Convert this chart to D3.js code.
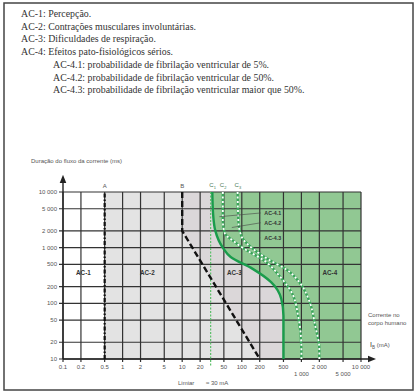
<!DOCTYPE html>
<html>
<head>
<meta charset="utf-8">
<script src="https://cdn.jsdelivr.net/npm/d3@7"></script>
<style>
  body { margin: 0; background: #fff; }
  svg { display: block; }
</style>
</head>
<body>
<div id="chart"></div>
<script>
// legend text lines (top of the figure)
const legendLines = [
  { text: 'AC-1: Percepção.', indent: 0 },
  { text: 'AC-2: Contrações musculares involuntárias.', indent: 0 },
  { text: 'AC-3: Dificuldades de respiração.', indent: 0 },
  { text: 'AC-4: Efeitos pato-fisiológicos sérios.', indent: 0 },
  { text: 'AC-4.1: probabilidade de fibrilação ventricular de 5%.', indent: 1 },
  { text: 'AC-4.2: probabilidade de fibrilação ventricular de 50%.', indent: 1 },
  { text: 'AC-4.3: probabilidade de fibrilação ventricular maior que 50%.', indent: 1 }
];

// axes
const xTicks = [0.1, 0.2, 0.5, 1, 2, 5, 10, 20, 50, 100, 200, 500, 1000, 2000, 5000, 10000];
const xTickLabels = ['0.1', '0.2', '0.5', '1', '2', '5', '10', '20', '50', '100', '200', '500', '1 000', '2 000', '5 000', '10 000'];
const xLowRow = [1000, 5000]; // labels set one row lower
const yTicks = [10, 20, 50, 100, 200, 500, 1000, 2000, 5000, 10000];
const yTickLabels = ['10', '20', '50', '100', '200', '500', '1 000', '2 000', '5 000', '10 000'];

// boundary curves [current mA, duration ms]
const curveA = [[0.5, 10], [0.5, 10000]];
const curveB = [[10, 10000], [10, 2000], [200, 10]];
const curveC1 = [[32, 10000], [33, 4000], [36, 2000], [48, 1000], [65, 680], [150, 420], [310, 240], [460, 120], [500, 60], [500, 10]];
const curveC2 = [[48, 10000], [48, 3100], [52, 1800], [70, 1350], [120, 900], [230, 600], [440, 300], [700, 150], [880, 60], [1000, 15], [1000, 10]];
const curveC3 = [[85, 10000], [88, 2800], [100, 1550], [165, 900], [290, 600], [570, 400], [950, 230], [1400, 100], [1700, 40], [2000, 15], [2000, 10]];
const threshold = 30;

// zone labels [x value, y value]
const zones = [
  { name: 'AC-1', x: 0.22, y: 350 },
  { name: 'AC-2', x: 2.6, y: 350 },
  { name: 'AC-3', x: 75, y: 350 },
  { name: 'AC-4', x: 3000, y: 350 }
];
const subZones = [
  { name: 'AC-4.1', x: 330, y: 4200, tx: 42, ty: 3600 },
  { name: 'AC-4.2', x: 330, y: 2800, tx: 68, ty: 2300 },
  { name: 'AC-4.3', x: 330, y: 1500, tx: 210, ty: 1500 }
];
const cLabels = [
  { name: 'C', sub: '1', x: 32 },
  { name: 'C', sub: '2', x: 48 },
  { name: 'C', sub: '3', x: 85 }
];

const W = 416, H = 392;
const svg = d3.select('#chart').append('svg').attr('width', W).attr('height', H);

svg.append('rect')
  .attr('x', 4).attr('y', 3).attr('width', 409).attr('height', 387)
  .attr('fill', '#fff').attr('stroke', '#444').attr('stroke-width', 1.5);

svg.append('g').selectAll('text')
  .data(legendLines)
  .enter().append('text')
  .attr('x', d => 21 + d.indent * 32)
  .attr('y', (d, i) => 17 + i * 12.7)
  .attr('font-family', 'Liberation Serif, serif')
  .attr('font-size', 9.9)
  .attr('fill', '#333')
  .text(d => d.text);

const x = d3.scaleLog().domain([0.1, 10000]).range([63, 361]);
const y = d3.scaleLog().domain([10, 10000]).range([359, 192]);

const line = d3.line().x(d => x(d[0])).y(d => y(d[1]));
const smooth = d3.line().x(d => x(d[0])).y(d => y(d[1])).curve(d3.curveMonotoneY);

// zone fills
const g = svg.append('g');
g.append('rect')
  .attr('x', x(0.5)).attr('y', y(10000))
  .attr('width', x(10000) - x(0.5)).attr('height', y(10) - y(10000))
  .attr('fill', '#e3e3e3');
// AC-3 between B and C1
g.append('path')
  .attr('d', line(curveB) + 'L' + smooth(curveC1.slice().reverse()).slice(1) + 'Z')
  .attr('fill', '#dbd7d9');
// AC-4 right of C1
g.append('path')
  .attr('d', smooth(curveC1) + 'L' + x(10000) + ',' + y(10) + 'L' + x(10000) + ',' + y(10000) + 'Z')
  .attr('fill', '#91c893');

// grid
g.selectAll('.vgrid').data(xTicks).enter().append('line')
  .attr('x1', d => x(d)).attr('x2', d => x(d))
  .attr('y1', y(10000)).attr('y2', y(10) + 3)
  .attr('stroke', '#333').attr('stroke-width', 1.2);
g.selectAll('.hgrid').data(yTicks).enter().append('line')
  .attr('x1', x(0.1) - 4).attr('x2', x(10000))
  .attr('y1', d => y(d)).attr('y2', d => y(d))
  .attr('stroke', '#333').attr('stroke-width', 1.2);

// axes with arrows
svg.append('defs').append('marker')
  .attr('id', 'arr').attr('viewBox', '0 0 10 10').attr('refX', 5).attr('refY', 5)
  .attr('markerWidth', 6).attr('markerHeight', 6).attr('orient', 'auto')
  .append('path').attr('d', 'M0,1L10,5L0,9Z').attr('fill', '#222');
svg.append('line')
  .attr('x1', x(0.1)).attr('x2', x(0.1)).attr('y1', y(10)).attr('y2', 179)
  .attr('stroke', '#222').attr('stroke-width', 1.4).attr('marker-end', 'url(#arr)');
svg.append('line')
  .attr('x1', x(0.1)).attr('x2', 372).attr('y1', y(10)).attr('y2', y(10))
  .attr('stroke', '#222').attr('stroke-width', 1.4).attr('marker-end', 'url(#arr)');

// threshold line
svg.append('line')
  .attr('x1', x(threshold)).attr('x2', x(threshold))
  .attr('y1', y(10000)).attr('y2', y(10) + 7)
  .attr('stroke', '#5cbf6a').attr('stroke-width', 1.2).attr('stroke-dasharray', '2,1.5');

// curve A
svg.append('path').attr('d', line(curveA))
  .attr('fill', 'none').attr('stroke', '#111').attr('stroke-width', 2.2)
  .attr('stroke-dasharray', '4,2,1.5,2');
// curve B
svg.append('path').attr('d', line(curveB))
  .attr('fill', 'none').attr('stroke', '#111').attr('stroke-width', 2.4)
  .attr('stroke-dasharray', '6,3');
// C1
svg.append('path').attr('d', smooth(curveC1))
  .attr('fill', 'none').attr('stroke', '#1a9c4c').attr('stroke-width', 2.4);
// C2, C3
[curveC2, curveC3].forEach(c => {
  svg.append('path').attr('d', smooth(c))
    .attr('fill', 'none').attr('stroke', '#3aa55a').attr('stroke-width', 2.4);
  svg.append('path').attr('d', smooth(c))
    .attr('fill', 'none').attr('stroke', '#fff').attr('stroke-width', 1.8)
    .attr('stroke-dasharray', '2,2.5');
});

// tick labels
const lab = svg.append('g')
  .attr('font-family', 'Liberation Sans, Arial, sans-serif')
  .attr('font-size', 6).attr('fill', '#555');
lab.selectAll('.yl').data(yTicks).enter().append('text')
  .attr('x', x(0.1) - 6).attr('y', d => y(d) + 2)
  .attr('text-anchor', 'end')
  .text((d, i) => yTickLabels[i]);
lab.selectAll('.xl').data(xTicks).enter().append('text')
  .attr('x', d => x(d)).attr('y', d => xLowRow.includes(d) ? 376 : 369)
  .attr('text-anchor', 'middle')
  .text((d, i) => xTickLabels[i]);
lab.append('text').attr('x', 31).attr('y', 163).text('Duração do fluxo da corrente (ms)');
lab.append('text').attr('x', 368).attr('y', 317).text('Corrente no');
lab.append('text').attr('x', 368).attr('y', 325).text('corpo humano');
const ib = lab.append('text').attr('x', 370).attr('y', 347);
ib.append('tspan').attr('font-size', 7).attr('fill', '#333').text('I');
ib.append('tspan').attr('font-size', 4.5).attr('dy', 1.5).text('B');
ib.append('tspan').attr('dy', -1.5).text(' (mA)');
lab.append('text').attr('x', 178).attr('y', 385).text('Limiar');
lab.append('text').attr('x', 206).attr('y', 385).text('≈ 30 mA');

// curve letters
lab.append('text').attr('x', x(0.5)).attr('y', 188).attr('text-anchor', 'middle').text('A');
lab.append('text').attr('x', x(10)).attr('y', 188).attr('text-anchor', 'middle').text('B');
cLabels.forEach(c => {
  const t = lab.append('text').attr('x', x(c.x) - 3).attr('y', 187).attr('fill', '#4a7a55');
  t.append('tspan').text(c.name);
  t.append('tspan').attr('font-size', 4).attr('dy', 1.5).text(c.sub);
});

// zone labels
svg.append('g').selectAll('text').data(zones).enter().append('text')
  .attr('x', d => x(d.x)).attr('y', d => y(d.y) + 2)
  .attr('text-anchor', 'middle')
  .attr('font-family', 'Liberation Sans, Arial, sans-serif')
  .attr('font-size', 6.3).attr('font-weight', 'bold').attr('fill', '#333')
  .text(d => d.name);

const sz = svg.append('g');
sz.selectAll('line').data(subZones).enter().append('line')
  .attr('x1', d => x(d.tx)).attr('y1', d => y(d.ty))
  .attr('x2', d => x(d.x) - 12).attr('y2', d => y(d.y))
  .attr('stroke', '#444').attr('stroke-width', 0.6);
sz.selectAll('text').data(subZones).enter().append('text')
  .attr('x', d => x(d.x)).attr('y', d => y(d.y) + 2)
  .attr('text-anchor', 'middle')
  .attr('font-family', 'Liberation Sans, Arial, sans-serif')
  .attr('font-size', 5.3).attr('font-weight', 'bold').attr('fill', '#333')
  .text(d => d.name);
</script>
</body>
</html>
